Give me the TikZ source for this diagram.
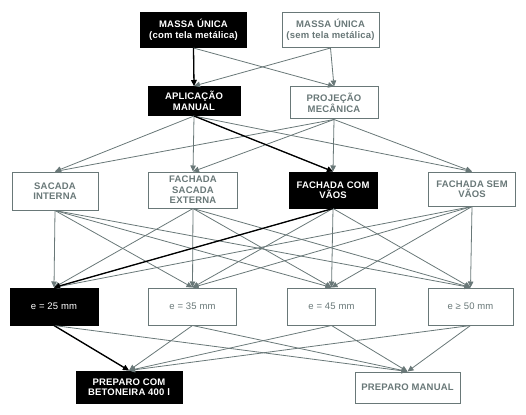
\documentclass[tikz,border=0pt]{standalone}
\usepackage{fontspec}
\setmainfont{Liberation Sans}[LetterSpace=2]
\usetikzlibrary{arrows.meta}
\definecolor{linegray}{RGB}{105,120,120}

\begin{document}
\begin{tikzpicture}[x=1pt,y=-1pt,>={Triangle[length=6pt,width=5.5pt]},
  box/.style={rectangle,draw,line width=1pt,align=center,inner sep=1pt,
    font=\bfseries\fontsize{9.5}{10.5}\selectfont},
  darkbox/.style={box,draw=black,fill=black,text=white},
  lightbox/.style={box,draw=linegray,fill=white,text=linegray},
  thickbox/.style={font=\fontsize{9.5}{10.5}\selectfont,minimum width=88pt,minimum height=37pt},
  graylink/.style={->,draw=linegray,line width=0.8pt},
  darklink/.style={->,draw=black,line width=1.3pt}]
\useasboundingbox (0,0) rectangle (526,414);
% ---------- row 1: massa ----------
\node[darkbox,minimum width=106pt,minimum height=35pt] (m1) at (193.5,30)
  {MASSA ÚNICA\\(com tela metálica)};
\node[lightbox,minimum width=97pt,minimum height=35pt] (m2) at (330.5,30)
  {MASSA ÚNICA\\(sem tela metálica)};
% ---------- row 2: aplicacao ----------
\node[darkbox,minimum width=92pt,minimum height=29pt] (a1) at (194,101)
  {APLICAÇÃO\\MANUAL};
\node[lightbox,minimum width=88pt,minimum height=32pt] (a2) at (334,103)
  {PROJEÇÃO\\MECÂNICA};
% ---------- row 3: fachada ----------
\node[lightbox,minimum width=86pt,minimum height=38pt] (f1) at (55,191)
  {SACADA\\INTERNA};
\node[lightbox,minimum width=89pt,minimum height=36pt] (f2) at (193,190)
  {FACHADA\\SACADA\\EXTERNA};
\node[darkbox,minimum width=88pt,minimum height=36pt] (f3) at (333,190)
  {FACHADA COM\\VÃOS};
\node[lightbox,minimum width=87pt,minimum height=34pt] (f4) at (472,189)
  {FACHADA SEM\\VÃOS};
% ---------- row 4: espessura ----------
\node[darkbox,thickbox] (e1) at (54,306.5) {e = 25 mm};
\node[lightbox,thickbox] (e2) at (192.5,306.5) {e = 35 mm};
\node[lightbox,thickbox] (e3) at (331.5,306.5) {e = 45 mm};
\node[lightbox,thickbox,minimum width=85pt] (e4) at (470.5,306.5) {e ≥ 50 mm};
% ---------- row 5: preparo ----------
\node[darkbox,minimum width=106pt,minimum height=32pt] (p1) at (129,387)
  {PREPARO COM\\BETONEIRA 400 l};
\node[lightbox,minimum width=105pt,minimum height=31pt] (p2) at (407.5,387.5)
  {PREPARO MANUAL};
% ---------- gray links ----------
\foreach \s in {m1,m2}
  \foreach \t in {a1,a2}
    \draw[graylink] (\s.south) -- (\t.north);
\foreach \s in {a1,a2}
  \foreach \t in {f1,f2,f3,f4}
    \draw[graylink] (\s.south) -- (\t.north);
\foreach \s in {f1,f2,f3,f4}
  \foreach \t in {e1,e2,e3,e4}
    \draw[graylink] (\s.south) -- (\t.north);
\foreach \s in {e1,e2,e3,e4}
  \foreach \t in {p1,p2}
    \draw[graylink] (\s.south) -- (\t.north);
% ---------- chosen path ----------
\draw[darklink] (m1.south) -- (a1.north);
\draw[darklink] (a1.south) -- (f3.north);
\draw[darklink] (f3.south) -- (e1.north);
\draw[darklink] (e1.south) -- (p1.north);
\end{tikzpicture}
\end{document}
